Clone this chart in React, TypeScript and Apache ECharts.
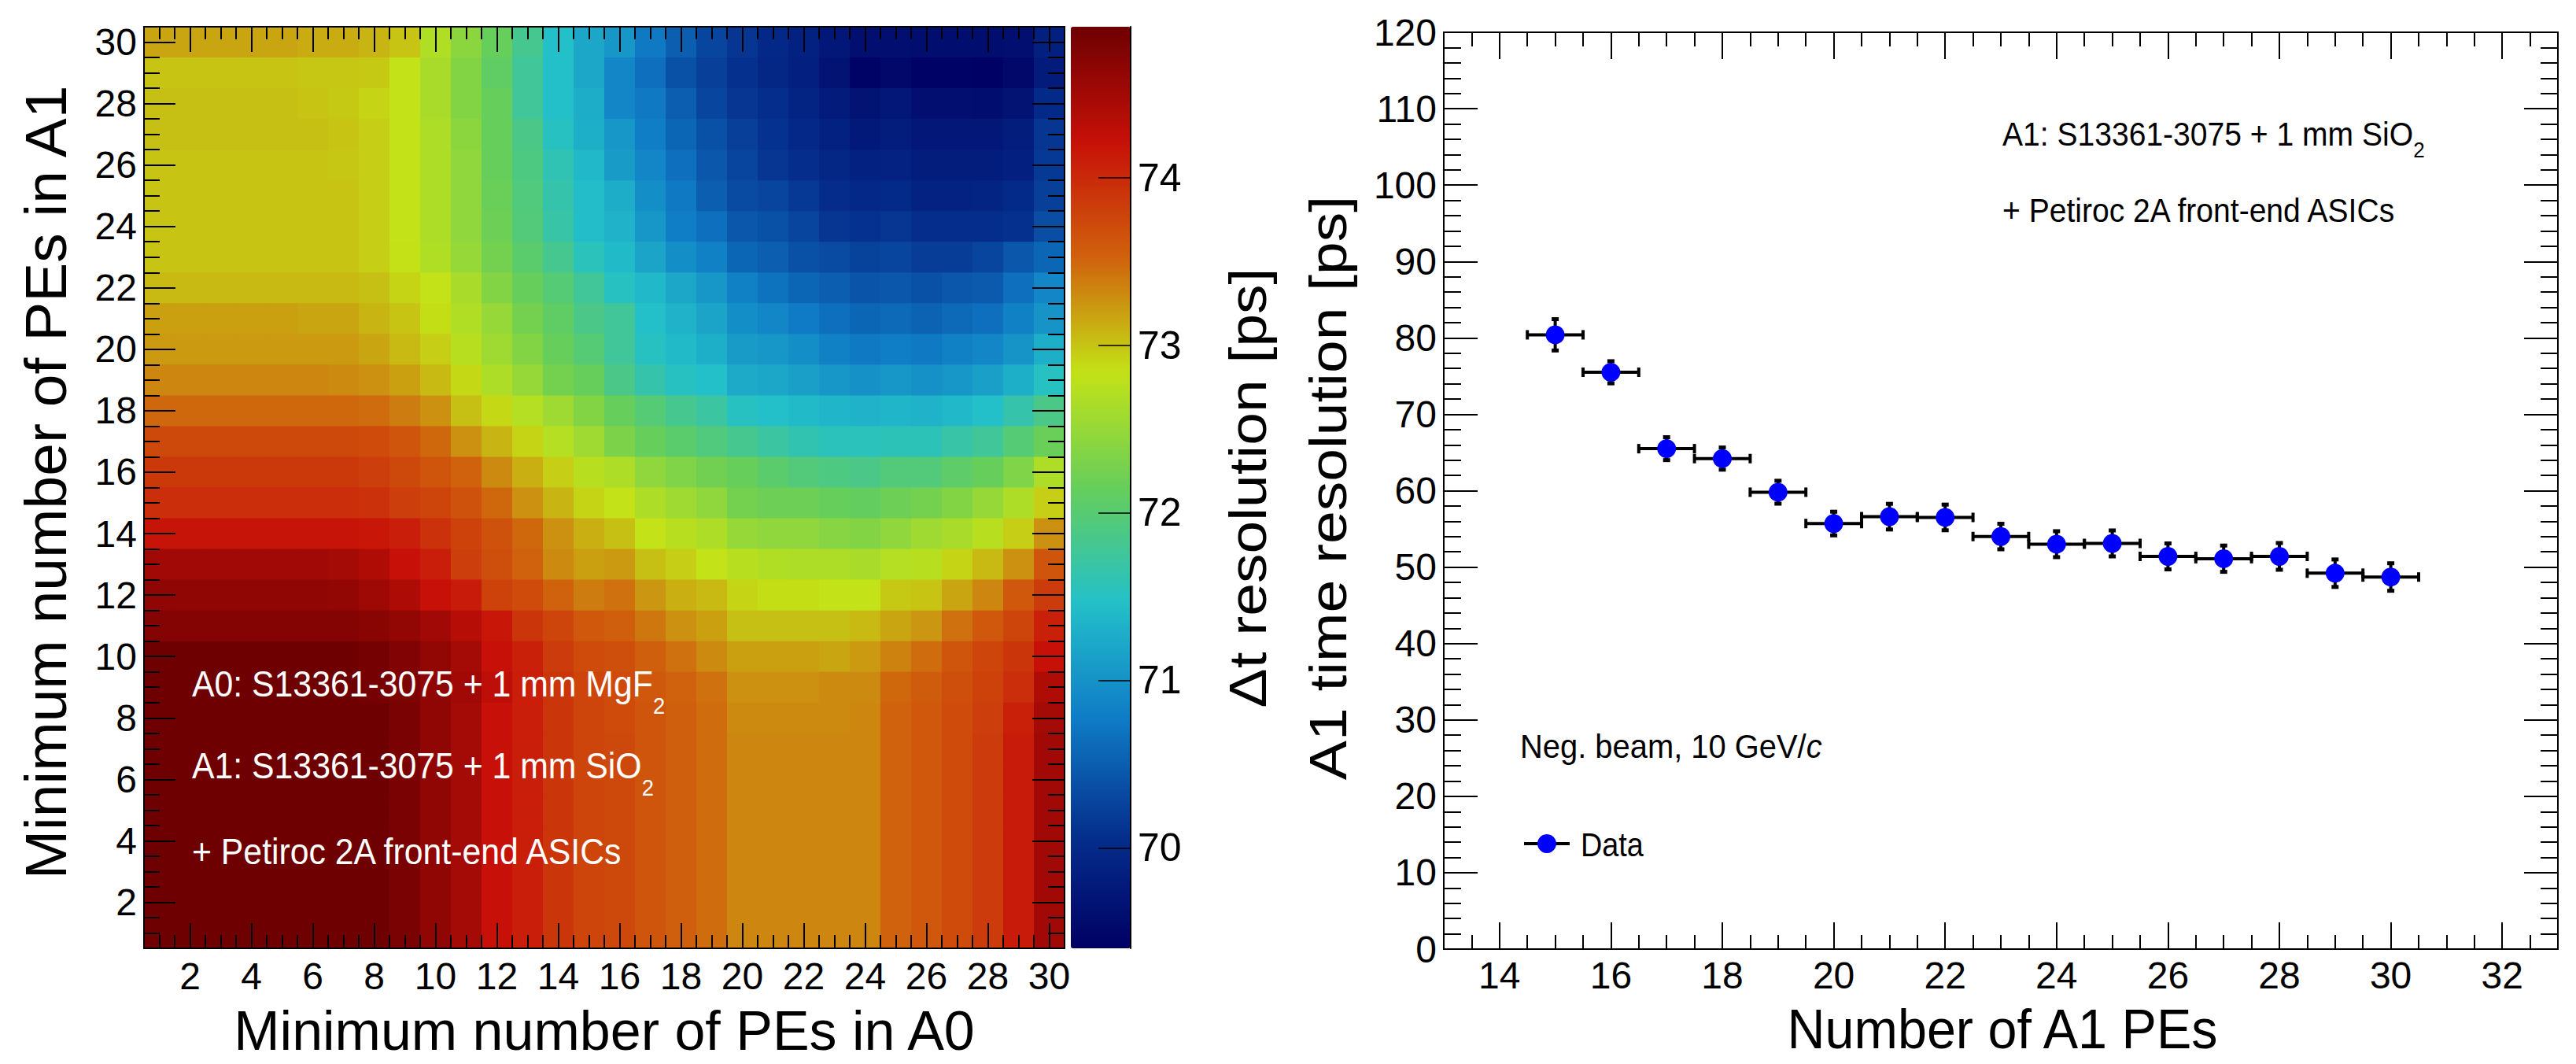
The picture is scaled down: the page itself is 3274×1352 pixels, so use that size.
import React, { useEffect, useRef } from "react";
import * as echarts from "echarts";

const FONT = "'Liberation Sans', Arial, Helvetica, sans-serif";
const FONT_NARROW = "'Liberation Sans Narrow', 'Liberation Sans', Arial, sans-serif";

// ---------------- Left panel: Δt resolution map [ps] ----------------
// columns: minimum number of PEs in A0 (1..30); rows: minimum number of PEs in A1
const a0MinPEs = [1, 2, 3, 4, 5, 6, 7, 8, 9, 10, 11, 12, 13, 14, 15, 16, 17, 18, 19, 20, 21, 22, 23, 24, 25, 26, 27, 28, 29, 30];
const a1MinPEs = [30, 29, 28, 27, 26, 25, 24, 23, 22, 21, 20, 19, 18, 17, 16, 15, 14, 13, 12, 11, 10, 9, 8, 7, 6, 5, 4, 3, 2, 1];

const row30 = [73.16, 73.16, 73.16, 73.16, 73.16, 73.13, 73.13, 73.08, 73.0, 72.69, 72.42, 72.15, 71.82, 71.46, 71.21, 71.05, 70.75, 70.5, 70.28, 70.14, 69.98, 69.87, 69.73, 69.62, 69.62, 69.59, 69.59, 69.59, 69.62, 69.84];
const row29 = [73.0, 73.0, 73.0, 73.0, 73.0, 72.98, 72.98, 72.97, 72.83, 72.64, 72.36, 72.09, 71.76, 71.46, 71.21, 70.88, 70.66, 70.39, 70.22, 70.09, 69.95, 69.84, 69.67, 69.45, 69.51, 69.43, 69.43, 69.41, 69.51, 69.78];
const row28 = [73.02, 73.02, 73.02, 73.02, 73.02, 73.0, 72.97, 72.91, 72.83, 72.64, 72.36, 72.15, 71.76, 71.46, 71.27, 70.88, 70.75, 70.5, 70.28, 70.14, 70.06, 69.92, 69.78, 69.67, 69.73, 69.62, 69.62, 69.59, 69.67, 70.0];
const row27 = [73.02, 73.02, 73.02, 73.02, 73.02, 73.02, 73.0, 72.94, 72.83, 72.67, 72.42, 72.15, 71.87, 71.51, 71.29, 71.05, 70.8, 70.58, 70.39, 70.22, 70.11, 69.98, 69.87, 69.76, 69.81, 69.73, 69.73, 69.73, 69.81, 70.14];
const row26 = [73.0, 73.0, 73.0, 73.0, 73.0, 73.0, 72.98, 72.94, 72.83, 72.67, 72.45, 72.15, 71.9, 71.6, 71.38, 71.1, 70.88, 70.66, 70.44, 70.28, 70.14, 70.06, 69.95, 69.87, 69.89, 69.81, 69.81, 69.81, 69.84, 70.17];
const row25 = [73.0, 73.0, 73.0, 73.0, 73.0, 73.0, 73.0, 72.94, 72.83, 72.67, 72.45, 72.17, 71.93, 71.65, 71.43, 71.27, 70.96, 70.75, 70.5, 70.33, 70.28, 70.17, 70.03, 69.98, 70.0, 69.89, 69.89, 69.92, 70.0, 70.22];
const row24 = [73.0, 73.0, 73.0, 73.0, 73.0, 73.0, 73.0, 72.94, 72.83, 72.67, 72.45, 72.2, 71.95, 71.68, 71.43, 71.32, 71.05, 70.8, 70.66, 70.44, 70.39, 70.28, 70.14, 70.11, 70.14, 70.06, 70.06, 70.06, 70.09, 70.36];
const row23 = [73.0, 73.0, 73.0, 73.0, 73.0, 73.0, 73.0, 72.94, 72.85, 72.69, 72.5, 72.25, 72.04, 71.82, 71.54, 71.4, 71.18, 70.96, 70.83, 70.58, 70.5, 70.39, 70.33, 70.25, 70.28, 70.2, 70.2, 70.28, 70.44, 70.58];
const row22 = [73.05, 73.05, 73.05, 73.05, 73.05, 73.05, 73.05, 73.02, 72.91, 72.83, 72.64, 72.36, 72.15, 71.98, 71.76, 71.51, 71.38, 71.21, 71.05, 70.83, 70.69, 70.58, 70.5, 70.42, 70.44, 70.39, 70.44, 70.47, 70.66, 70.88];
const row21 = [73.19, 73.19, 73.19, 73.19, 73.19, 73.16, 73.16, 73.08, 73.0, 72.86, 72.69, 72.5, 72.25, 72.09, 71.87, 71.76, 71.46, 71.32, 71.18, 70.96, 70.88, 70.77, 70.66, 70.58, 70.61, 70.55, 70.61, 70.66, 70.83, 71.02];
const row20 = [73.22, 73.22, 73.22, 73.22, 73.22, 73.22, 73.22, 73.16, 73.05, 72.94, 72.75, 72.56, 72.36, 72.15, 71.98, 71.76, 71.51, 71.4, 71.29, 71.1, 71.05, 70.96, 70.83, 70.75, 70.8, 70.75, 70.83, 70.88, 71.02, 71.29];
const row19 = [73.33, 73.33, 73.33, 73.33, 73.33, 73.33, 73.3, 73.27, 73.19, 73.05, 72.89, 72.67, 72.5, 72.25, 72.15, 71.87, 71.65, 71.51, 71.46, 71.24, 71.21, 71.13, 71.05, 70.99, 71.05, 70.99, 71.05, 71.13, 71.29, 71.51];
const row18 = [73.49, 73.49, 73.49, 73.49, 73.49, 73.49, 73.49, 73.46, 73.38, 73.27, 73.02, 72.89, 72.72, 72.56, 72.36, 72.15, 71.98, 71.82, 71.71, 71.51, 71.46, 71.4, 71.35, 71.32, 71.35, 71.32, 71.38, 71.46, 71.65, 71.87];
const row17 = [73.74, 73.74, 73.74, 73.74, 73.74, 73.74, 73.74, 73.71, 73.63, 73.49, 73.27, 73.08, 72.91, 72.72, 72.56, 72.31, 72.15, 72.04, 71.93, 71.82, 71.71, 71.62, 71.54, 71.54, 71.57, 71.57, 71.68, 71.76, 71.98, 72.17];
const row16 = [73.87, 73.87, 73.87, 73.87, 73.87, 73.87, 73.87, 73.82, 73.74, 73.63, 73.52, 73.3, 73.11, 72.94, 72.75, 72.67, 72.45, 72.34, 72.23, 72.15, 72.04, 71.95, 71.9, 71.87, 71.95, 71.95, 72.06, 72.15, 72.34, 72.67];
const row15 = [73.96, 73.96, 73.96, 73.96, 73.96, 73.96, 73.96, 73.93, 73.82, 73.76, 73.65, 73.49, 73.27, 73.08, 72.91, 72.83, 72.67, 72.56, 72.45, 72.25, 72.2, 72.2, 72.15, 72.12, 72.2, 72.25, 72.36, 72.5, 72.67, 72.94];
const row14 = [74.18, 74.18, 74.18, 74.18, 74.18, 74.18, 74.18, 74.15, 74.09, 73.93, 73.79, 73.65, 73.49, 73.27, 73.11, 73.02, 72.83, 72.75, 72.67, 72.5, 72.45, 72.45, 72.39, 72.36, 72.45, 72.56, 72.64, 72.75, 72.94, 73.27];
const row13 = [74.51, 74.51, 74.51, 74.51, 74.51, 74.51, 74.48, 74.4, 74.2, 74.09, 73.82, 73.68, 73.52, 73.3, 73.19, 73.22, 73.02, 72.94, 72.83, 72.75, 72.69, 72.67, 72.67, 72.64, 72.72, 72.75, 72.91, 73.05, 73.27, 73.63];
const row12 = [74.64, 74.64, 74.64, 74.64, 74.64, 74.64, 74.62, 74.53, 74.42, 74.2, 74.12, 73.79, 73.71, 73.52, 73.38, 73.44, 73.24, 73.11, 73.05, 72.91, 72.86, 72.86, 72.83, 72.83, 72.97, 73.0, 73.16, 73.33, 73.6, 73.85];
const row11 = [74.73, 74.73, 74.73, 74.73, 74.73, 74.73, 74.73, 74.7, 74.62, 74.51, 74.34, 74.15, 73.9, 73.76, 73.6, 73.54, 73.41, 73.27, 73.19, 73.02, 73.02, 73.02, 73.02, 73.05, 73.16, 73.24, 73.44, 73.6, 73.76, 74.07];
const row10 = [74.89, 74.89, 74.89, 74.89, 74.89, 74.89, 74.89, 74.84, 74.75, 74.62, 74.48, 74.2, 74.07, 73.85, 73.71, 73.68, 73.54, 73.44, 73.3, 73.19, 73.19, 73.19, 73.16, 73.22, 73.35, 73.46, 73.63, 73.76, 73.9, 74.2];
const row9 = [74.89, 74.89, 74.89, 74.89, 74.89, 74.89, 74.89, 74.84, 74.78, 74.64, 74.51, 74.29, 74.09, 73.9, 73.76, 73.71, 73.6, 73.52, 73.44, 73.27, 73.27, 73.27, 73.3, 73.3, 73.49, 73.57, 73.68, 73.79, 73.96, 74.4];
const row8 = [74.89, 74.89, 74.89, 74.89, 74.89, 74.89, 74.89, 74.89, 74.81, 74.64, 74.48, 74.2, 74.09, 73.9, 73.76, 73.71, 73.63, 73.54, 73.46, 73.3, 73.3, 73.3, 73.3, 73.33, 73.52, 73.6, 73.71, 73.82, 74.07, 74.48];
// rows 7 down to 1
const row7to1 = [74.89, 74.89, 74.89, 74.89, 74.89, 74.89, 74.89, 74.89, 74.81, 74.64, 74.48, 74.2, 74.09, 73.9, 73.76, 73.74, 73.63, 73.54, 73.46, 73.33, 73.33, 73.33, 73.33, 73.33, 73.52, 73.6, 73.71, 73.85, 74.12, 74.51];

const heatRows = [row30, row29, row28, row27, row26, row25, row24, row23, row22, row21, row20, row19, row18, row17, row16, row15, row14, row13, row12, row11, row10, row9, row8, row7to1, row7to1, row7to1, row7to1, row7to1, row7to1, row7to1];

const zMin = 69.4;
const zMax = 74.9;
const colorbarTicks = [70, 71, 72, 73, 74];
const heatTicks = [2, 4, 6, 8, 10, 12, 14, 16, 18, 20, 22, 24, 26, 28, 30];
const rainbow = ["#000063", "#05308e", "#0f7cc6", "#23c0c9", "#66ce5a", "#c4e216", "#d0610d", "#c71008", "#6e0002"];

// ---------------- Right panel: A1 time resolution ----------------
const a1PEs = [15, 16, 17, 18, 19, 20, 21, 22, 23, 24, 25, 26, 27, 28, 29, 30];
const a1Resolution = [80.4, 75.5, 65.5, 64.2, 59.8, 55.7, 56.6, 56.5, 54.0, 53.0, 53.1, 51.4, 51.1, 51.4, 49.2, 48.7];
const a1ResolutionErr = [2.05, 1.45, 1.5, 1.45, 1.5, 1.55, 1.68, 1.68, 1.67, 1.7, 1.7, 1.7, 1.72, 1.75, 1.8, 1.8];
const a1PEsHalfBin = 0.5;
const rightXTicks = [14, 16, 18, 20, 22, 24, 26, 28, 30, 32];

function steps(from: number, to: number, step: number) {
  const out: number[] = [];
  for (let v = from; v <= to + 1e-9; v += step) out.push(Math.round(v * 100) / 100);
  return out;
}

const BLACK = "#000";
const LW = 2;

function xAx(gridIndex: number, min: number, max: number, position: string, values: number[] | null, length: number, label: any, extra: any = {}) {
  const tw = extra.tickWidth || LW;
  const e = { ...extra };
  delete e.tickWidth;
  return {
    type: "value",
    gridIndex,
    min,
    max,
    position,
    z: 10,
    axisLine: { show: true, onZero: false, lineStyle: { color: BLACK, width: LW } },
    axisTick: values
      ? { show: true, inside: true, length, customValues: values, lineStyle: { color: BLACK, width: tw } }
      : { show: true, inside: true, length, lineStyle: { color: BLACK, width: tw } },
    axisLabel: label ? { show: true, color: BLACK, ...(values ? { customValues: values } : {}), ...label } : { show: false },
    splitLine: { show: false },
    ...e,
  };
}

// rich text line; all tokens share one box height so the subscript offset
// does not depend on how tokens are vertically aligned
function richText(x: number, baseline: number, text: string, M: number, S: number, offset: number, fill: string, scaleX: number) {
  const k = 0.8465;
  const Pt = k * M + offset - k * S;
  const H = S + Pt;
  const Pb = H - M;
  return {
    type: "text",
    x,
    y: baseline - k * M,
    scaleX,
    z: 100,
    silent: true,
    style: {
      text,
      fill,
      align: "left",
      verticalAlign: "top",
      rich: {
        m: { fontSize: M, lineHeight: M, fontFamily: FONT, fill, padding: [0, 0, Pb, 0], verticalAlign: "top" },
        i: { fontSize: M, lineHeight: M, fontFamily: FONT, fill, fontStyle: "italic", padding: [0, 0, Pb, 0], verticalAlign: "top" },
        s: { fontSize: S, lineHeight: S, fontFamily: FONT, fill, padding: [Pt, 0, 0, 0], verticalAlign: "top" },
      },
    },
  };
}

function plainText(x: number, y: number, text: string, fontSize: number, opts: any = {}) {
  return {
    type: "text",
    x,
    y,
    z: 100,
    silent: true,
    rotation: opts.rotation || 0,
    scaleX: opts.scaleX || 1,
    style: { text, fill: BLACK, fontSize, fontFamily: FONT, align: "center", verticalAlign: "middle" },
  };
}

export default function App() {
  const ref = useRef<HTMLDivElement>(null);

  useEffect(() => {
    if (!ref.current) return;
    const chart = echarts.init(ref.current, undefined, { renderer: "svg" });

    const heatData: number[][] = [];
    heatRows.forEach((row, i) => {
      row.forEach((v, j) => heatData.push([a0MinPEs[j], a1MinPEs[i], v]));
    });
    const errData = a1PEs.map((x, i) => [x, a1Resolution[i], a1ResolutionErr[i], a1PEsHalfBin]);
    const pointData = a1PEs.map((x, i) => [x, a1Resolution[i]]);

    const heatMinor = steps(0.5, 30.5, 0.5);
    const rightMinor = steps(13, 33, 0.5);
    const tickLabelH = { fontSize: 48, fontFamily: FONT, margin: 11 };
    const tickLabelV = { fontSize: 48, fontFamily: FONT, margin: 9 };
    const rLabelH = { fontSize: 48, fontFamily: FONT_NARROW, margin: 9 };
    const rLabelV = { fontSize: 48, fontFamily: FONT_NARROW, margin: 9 };

    const option: any = {
      animation: false,
      backgroundColor: "#fff",
      grid: [
        { left: 183, top: 34, width: 1170, height: 1171, show: false, outerBoundsMode: "none" },
        { left: 1835, top: 41, width: 1416, height: 1165, show: false, outerBoundsMode: "none" },
        { left: 1361, top: 34, width: 76, height: 1171, show: false, outerBoundsMode: "none" },
      ],
      xAxis: [
        xAx(0, 0.5, 30.5, "bottom", heatTicks, 32, tickLabelH),
        xAx(0, 0.5, 30.5, "bottom", heatMinor, 17, null),
        xAx(0, 0.5, 30.5, "top", heatTicks, 32, null),
        xAx(0, 0.5, 30.5, "top", heatMinor, 16, null),
        xAx(1, 13, 33, "bottom", rightXTicks, 34, rLabelH),
        xAx(1, 13, 33, "bottom", rightMinor, 18, null),
        xAx(1, 13, 33, "top", rightXTicks, 34, null),
        xAx(1, 13, 33, "top", rightMinor, 18, null),
        { type: "value", gridIndex: 2, min: 0, max: 1, show: false },
      ],
      yAxis: [
        xAx(0, 0.5, 30.5, "left", heatTicks, 40, tickLabelV),
        xAx(0, 0.5, 30.5, "left", heatMinor, 20, null),
        xAx(0, 0.5, 30.5, "right", heatTicks, 41, null),
        xAx(0, 0.5, 30.5, "right", heatMinor, 21, null),
        xAx(1, 0, 120, "left", null, 43, rLabelV, {
          interval: 10,
          minorTick: { show: true, splitNumber: 5, length: 22, lineStyle: { color: BLACK, width: LW } },
        }),
        xAx(1, 0, 120, "right", null, 43, null, {
          interval: 10,
          minorTick: { show: true, splitNumber: 5, length: 22, lineStyle: { color: BLACK, width: LW } },
        }),
        xAx(2, zMin, zMax, "right", colorbarTicks, 41, { fontSize: 50, fontFamily: FONT, margin: 9 }, { tickWidth: 1.5 }),
      ],
      visualMap: {
        type: "continuous",
        seriesIndex: 0,
        dimension: 2,
        min: zMin,
        max: zMax,
        inRange: { color: rainbow },
        calculable: false,
        hoverLink: false,
        show: true,
        orient: "vertical",
        left: 1361,
        top: 34,
        itemWidth: 76,
        itemHeight: 1171,
        padding: 0,
        z: 4,
      },
      series: [
        {
          type: "custom",
          xAxisIndex: 0,
          yAxisIndex: 0,
          z: 1,
          silent: true,
          encode: { x: 0, y: 1 },
          data: heatData,
          renderItem: (params: any, api: any) => {
            const x = api.value(0);
            const y = api.value(1);
            const p0 = api.coord([x - 0.5, y + 0.5]);
            const p1 = api.coord([x + 0.5, y - 0.5]);
            return {
              type: "rect",
              shape: { x: p0[0], y: p0[1], width: p1[0] - p0[0] + 0.8, height: p1[1] - p0[1] + 0.8 },
              style: { fill: api.visual("color") },
            };
          },
        },
        {
          type: "custom",
          xAxisIndex: 4,
          yAxisIndex: 4,
          z: 3,
          silent: true,
          encode: { x: 0, y: 1 },
          data: errData,
          renderItem: (params: any, api: any) => {
            const x = api.value(0);
            const y = api.value(1);
            const ey = api.value(2);
            const ex = api.value(3);
            const l = api.coord([x - ex, y]);
            const r = api.coord([x + ex, y]);
            const t = api.coord([x, y + ey]);
            const b = api.coord([x, y - ey]);
            const st = { stroke: BLACK, lineWidth: 4 };
            const cap = { stroke: BLACK, lineWidth: 5 };
            return {
              type: "group",
              children: [
                { type: "line", shape: { x1: l[0], y1: l[1], x2: r[0], y2: r[1] }, style: st },
                { type: "line", shape: { x1: l[0], y1: l[1] - 6, x2: l[0], y2: l[1] + 6 }, style: st },
                { type: "line", shape: { x1: r[0], y1: r[1] - 6, x2: r[0], y2: r[1] + 6 }, style: st },
                { type: "line", shape: { x1: t[0], y1: t[1], x2: b[0], y2: b[1] }, style: st },
                { type: "line", shape: { x1: t[0] - 4.5, y1: t[1], x2: t[0] + 4.5, y2: t[1] }, style: cap },
                { type: "line", shape: { x1: b[0] - 4.5, y1: b[1], x2: b[0] + 4.5, y2: b[1] }, style: cap },
              ],
            };
          },
        },
        {
          type: "scatter",
          xAxisIndex: 4,
          yAxisIndex: 4,
          z: 4,
          silent: true,
          symbol: "circle",
          symbolSize: 24,
          itemStyle: { color: "#0000ff", opacity: 1 },
          data: pointData,
        },
      ],
      graphic: {
        elements: [
          // axis titles
          plainText(768, 1334 - 0.3465 * 70, "Minimum number of PEs in A0", 70),
          plainText(58, 613, "Minimum number of PEs in A1", 75, { rotation: Math.PI / 2 }),
          plainText(2545, 1332 - 0.3465 * 70, "Number of A1 PEs", 70, { scaleX: 0.95 }),
          plainText(1586, 620, "\u0394t resolution [ps]", 67, { rotation: Math.PI / 2, scaleX: 1.12 }),
          plainText(1688, 620, "A1 time resolution [ps]", 67, { rotation: Math.PI / 2, scaleX: 1.12 }),
          // heatmap annotations
          richText(244, 885, "{m|A0: S13361-3075 + 1 mm MgF}{s|2}", 47, 30, 21.6, "#fff", 0.91),
          richText(244, 989, "{m|A1: S13361-3075 + 1 mm SiO}{s|2}", 47, 30, 21.6, "#fff", 0.91),
          richText(244, 1098, "{m|+ Petiroc 2A front-end ASICs}", 47, 30, 21.6, "#fff", 0.91),
          // right annotations
          richText(2545, 185, "{m|A1: S13361-3075 + 1 mm SiO}{s|2}", 42, 28, 15.5, BLACK, 0.93),
          richText(2545, 282, "{m|+ Petiroc 2A front-end ASICs}", 42, 28, 15.5, BLACK, 0.93),
          richText(1932, 963, "{m|Neg. beam, 10 GeV/}{i|c}", 42, 28, 15.5, BLACK, 0.95),
          // legend
          {
            type: "line",
            z: 100,
            silent: true,
            shape: { x1: 1937, y1: 1072, x2: 1995, y2: 1072 },
            style: { stroke: BLACK, lineWidth: 4 },
          },
          {
            type: "circle",
            z: 101,
            silent: true,
            shape: { cx: 1966, cy: 1072, r: 12 },
            style: { fill: "#0000ff" },
          },
          richText(2009, 1088, "{m|Data}", 42, 28, 15.5, BLACK, 0.9),
        ],
      },
    };

    chart.setOption(option);
    return () => chart.dispose();
  }, []);

  return (
    <div
      ref={ref}
      style={{ position: "absolute", left: 0, top: 0, width: 3274, height: 1352, background: "#fff" }}
    />
  );
}
